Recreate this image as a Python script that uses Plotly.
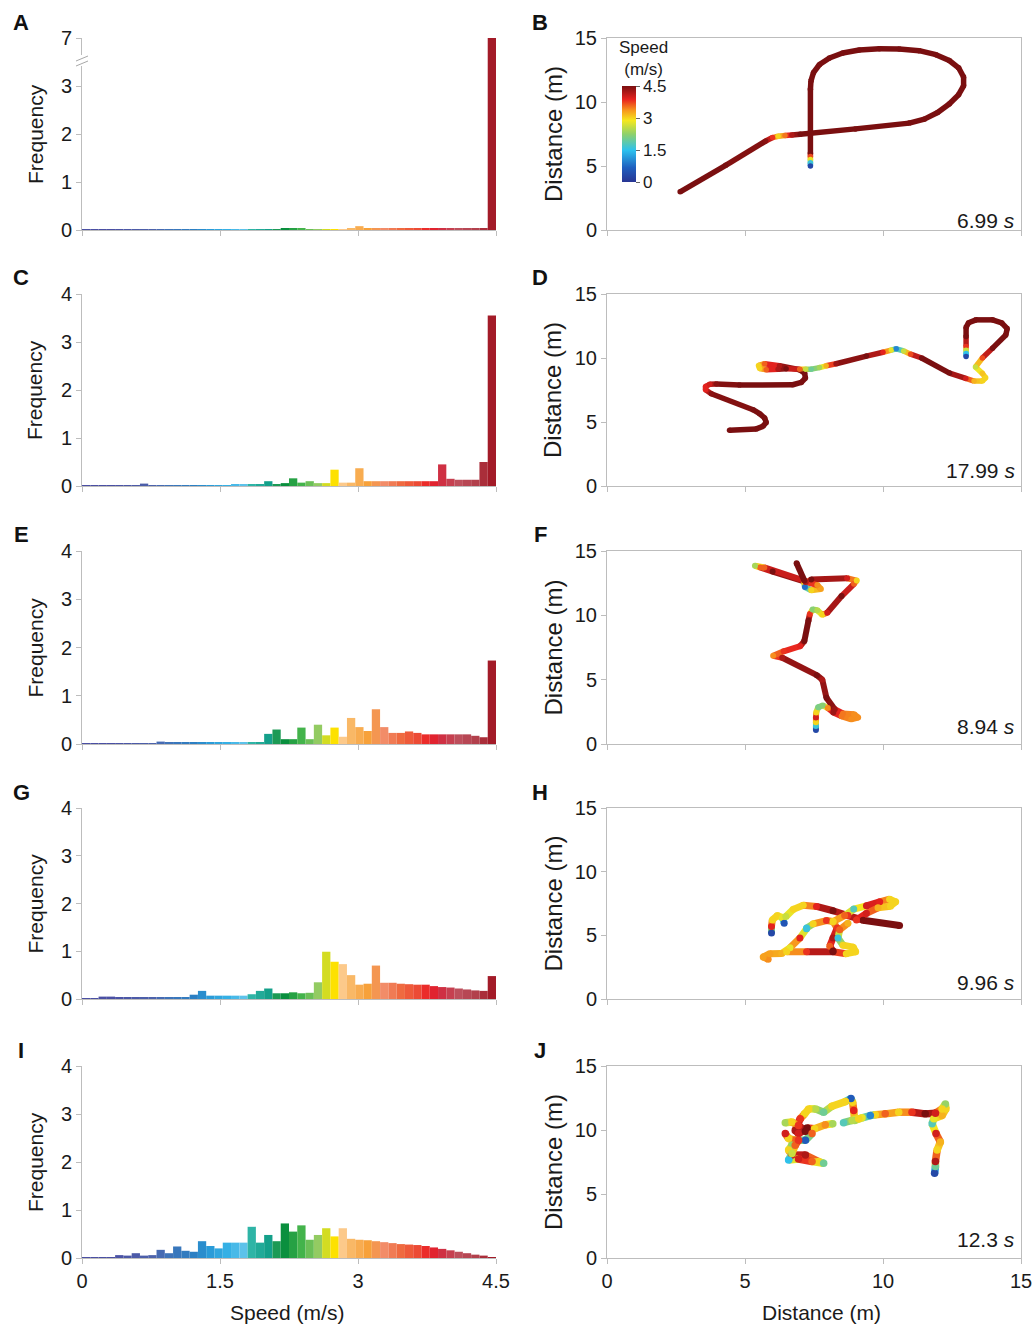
import plotly.graph_objects as go

W, H = 1036, 1324
FONT = "Liberation Sans, Arial, Helvetica, sans-serif"

# ---------------- data ----------------
BIN_WIDTH = 0.09
SPEED_BINS = [round(BIN_WIDTH * (k + 0.5), 3) for k in range(50)]  # bin centres (m/s)

FREQ_A = [0.02, 0.02, 0.02, 0.02, 0.02, 0.02, 0.02, 0.02, 0.02, 0.02,
          0.02, 0.02, 0.02, 0.02, 0.02, 0.02, 0.02, 0.02, 0.02, 0.02,
          0.02, 0.02, 0.02, 0.02, 0.03, 0.04, 0.03, 0.02, 0.02, 0.02,
          0.02, 0.02, 0.03, 0.08, 0.04, 0.03, 0.03, 0.03, 0.03, 0.03,
          0.03, 0.03, 0.03, 0.03, 0.03, 0.03, 0.03, 0.03, 0.03, 7.0]
FREQ_C = [0.02, 0.02, 0.02, 0.02, 0.02, 0.02, 0.02, 0.05, 0.02, 0.02,
          0.02, 0.02, 0.02, 0.02, 0.02, 0.02, 0.02, 0.02, 0.03, 0.03,
          0.03, 0.03, 0.10, 0.03, 0.06, 0.16, 0.07, 0.10, 0.06, 0.06,
          0.34, 0.07, 0.07, 0.37, 0.10, 0.10, 0.10, 0.10, 0.10, 0.10,
          0.10, 0.10, 0.10, 0.45, 0.15, 0.13, 0.13, 0.13, 0.50, 3.55]
FREQ_E = [0.02, 0.02, 0.02, 0.02, 0.02, 0.02, 0.02, 0.02, 0.02, 0.05,
          0.03, 0.03, 0.03, 0.03, 0.03, 0.03, 0.03, 0.03, 0.03, 0.03,
          0.03, 0.03, 0.21, 0.30, 0.10, 0.10, 0.34, 0.10, 0.40, 0.18,
          0.34, 0.15, 0.54, 0.35, 0.27, 0.72, 0.35, 0.23, 0.23, 0.26,
          0.23, 0.20, 0.20, 0.20, 0.20, 0.20, 0.20, 0.17, 0.14, 1.73]
FREQ_G = [0.02, 0.02, 0.05, 0.05, 0.04, 0.04, 0.04, 0.04, 0.04, 0.04,
          0.04, 0.04, 0.04, 0.09, 0.17, 0.07, 0.07, 0.07, 0.07, 0.07,
          0.10, 0.17, 0.22, 0.12, 0.12, 0.14, 0.12, 0.13, 0.35, 0.99,
          0.78, 0.73, 0.50, 0.30, 0.32, 0.70, 0.34, 0.34, 0.32, 0.31,
          0.30, 0.30, 0.27, 0.25, 0.24, 0.22, 0.20, 0.18, 0.17, 0.48]
FREQ_I = [0.02, 0.02, 0.02, 0.02, 0.06, 0.05, 0.10, 0.05, 0.06, 0.17,
          0.10, 0.24, 0.15, 0.13, 0.35, 0.25, 0.20, 0.32, 0.32, 0.32,
          0.65, 0.32, 0.48, 0.35, 0.72, 0.55, 0.68, 0.38, 0.48, 0.62,
          0.45, 0.62, 0.40, 0.38, 0.37, 0.35, 0.33, 0.31, 0.29, 0.28,
          0.27, 0.25, 0.22, 0.19, 0.16, 0.13, 0.10, 0.07, 0.05, 0.02]

# trajectories: strokes of (x m, y m, speed m/s)
TRACK_B = [[(2.65, 2.98, 4.5), (4.3, 5.05, 4.5), (5.75, 6.95, 4.4), (6.0, 7.22, 3.8), (6.2, 7.32, 3.0),
            (6.45, 7.38, 3.5), (6.7, 7.42, 4.2), (7.0, 7.48, 4.5), (9.0, 7.9, 4.5), (10.95, 8.35, 4.5),
            (11.50, 8.66, 4.5), (11.98, 9.18, 4.5), (12.40, 9.85, 4.5), (12.74, 10.57, 4.5), (12.92, 11.26, 4.5),
            (12.92, 11.95, 4.5), (12.74, 12.67, 4.5), (12.40, 13.24, 4.5), (11.92, 13.70, 4.5), (11.31, 14.01, 4.5),
            (10.59, 14.14, 4.5), (9.87, 14.16, 4.5), (9.14, 14.06, 4.5), (8.54, 13.83, 4.5), (8.06, 13.44, 4.5),
            (7.70, 12.93, 4.5), (7.48, 12.29, 4.5), (7.39, 11.65, 4.5), (7.37, 11.0, 4.5), (7.37, 6.0, 4.5),
            (7.37, 5.75, 3.7), (7.37, 5.5, 2.8), (7.37, 5.25, 1.6), (7.37, 5.0, 0.3)]]
TRACK_D = [[(4.44, 4.35, 4.5), (5.41, 4.46, 4.5), (5.65, 4.66, 4.5), (5.77, 4.97, 4.5), (5.71, 5.31, 4.5),
            (5.53, 5.65, 4.5), (5.29, 5.96, 4.5), (3.78, 7.21, 4.4), (3.57, 7.52, 3.9), (3.57, 7.78, 3.9),
            (3.72, 7.94, 4.0), (3.96, 7.96, 4.4), (4.8, 7.89, 4.5), (6.73, 7.91, 4.5), (7.04, 8.09, 4.5),
            (7.19, 8.43, 4.5), (7.16, 8.82, 4.5), (6.98, 9.08, 4.5), (6.25, 9.39, 4.2), (5.71, 9.55, 3.6),
            (5.49, 9.42, 3.0), (5.53, 9.18, 3.0), (5.77, 9.08, 3.6), (6.2, 9.12, 4.2), (6.49, 9.16, 4.5),
            (6.98, 9.13, 3.6), (7.2, 9.12, 2.6), (7.4, 9.13, 2.0), (7.7, 9.25, 2.4), (7.94, 9.39, 3.2),
            (8.3, 9.55, 4.3), (9.4, 10.15, 4.5), (10.0, 10.45, 3.9), (10.3, 10.62, 2.8), (10.48, 10.72, 1.0),
            (10.75, 10.55, 2.6), (11.0, 10.3, 3.7), (11.4, 10.0, 4.5), (12.41, 8.82, 4.5), (13.0, 8.4, 4.0),
            (13.3, 8.2, 3.2), (13.6, 8.2, 3.0), (13.72, 8.45, 3.0), (13.6, 8.8, 3.1), (13.35, 9.3, 2.6),
            (13.6, 10.0, 3.7), (13.97, 10.77, 4.5), (14.45, 11.8, 4.5), (14.5, 12.3, 4.5), (14.3, 12.75, 4.5),
            (13.97, 12.98, 4.5), (13.37, 12.98, 4.5), (13.1, 12.75, 4.5), (13.01, 12.4, 4.5), (13.01, 11.68, 4.5),
            (13.01, 10.9, 3.8), (13.01, 10.6, 2.6), (13.01, 10.35, 1.5), (13.01, 10.12, 0.3)]]
TRACK_F = [[(7.57, 1.08, 0.3), (7.57, 1.4, 1.6), (7.57, 1.7, 3.0), (7.57, 2.05, 4.0), (7.58, 2.45, 3.0),
            (7.65, 2.85, 2.1), (7.82, 3.0, 2.2), (8.0, 2.8, 3.4), (8.2, 2.45, 4.3), (8.5, 2.15, 3.5),
            (8.85, 1.92, 3.4), (9.1, 2.05, 3.4), (8.95, 2.32, 3.4), (8.55, 2.38, 3.5), (8.25, 2.7, 4.3),
            (7.95, 3.6, 4.5), (7.8, 5.0, 4.2), (7.6, 5.35, 4.5), (6.35, 6.7, 4.2), (6.02, 6.85, 3.4),
            (6.4, 7.2, 3.8), (7.0, 7.6, 3.9), (7.15, 8.0, 4.5), (7.3, 9.6, 4.5), (7.35, 10.1, 3.8),
            (7.45, 10.45, 2.2), (7.62, 10.4, 2.5), (7.8, 10.05, 3.0), (7.98, 10.2, 4.0), (8.5, 11.5, 4.5),
            (8.95, 12.45, 3.6), (9.05, 12.7, 3.0), (8.7, 12.88, 4.0), (7.4, 12.78, 4.5), (7.15, 12.5, 3.0),
            (7.17, 12.2, 0.8), (7.4, 11.95, 3.0), (7.75, 12.05, 3.3), (7.62, 12.35, 3.4), (7.2, 12.6, 4.2),
            (6.0, 13.4, 4.5), (5.55, 13.72, 3.6), (5.36, 13.85, 2.4), (5.7, 13.72, 3.6), (7.15, 12.7, 4.5),
            (6.87, 14.05, 4.5)]]
TRACK_H = [
    [(5.96, 5.18, 0.3), (5.96, 5.70, 3.9), (5.99, 6.21, 3.0), (6.17, 6.55, 3.0), (6.36, 6.39, 2.8), (6.42, 5.95, 0.5)],
    [(6.48, 6.47, 2.6), (6.75, 7.04, 3.0), (7.11, 7.37, 3.0), (7.59, 7.27, 3.9), (8.19, 6.93, 4.5),
     (8.73, 6.55, 3.8), (9.28, 6.19, 4.5), (10.60, 5.77, 4.5)],
    [(8.19, 6.08, 3.0), (8.61, 6.55, 3.6), (8.94, 7.06, 1.8), (9.40, 7.32, 4.0), (9.88, 7.63, 3.9),
     (10.24, 7.84, 3.0), (10.46, 7.63, 3.0), (10.27, 7.29, 3.0), (9.82, 7.16, 3.2), (9.40, 6.73, 4.0), (9.04, 6.21, 3.8)],
    [(7.23, 5.57, 1.6), (7.47, 5.90, 3.0), (7.95, 6.16, 3.8), (8.19, 6.08, 3.0), (8.34, 5.57, 3.8),
     (8.19, 4.79, 4.2), (8.07, 4.15, 3.6), (8.19, 3.76, 4.5)],
    [(5.84, 3.12, 3.4), (5.66, 3.30, 3.3), (5.90, 3.56, 3.3), (6.33, 3.58, 3.2), (6.63, 4.02, 2.8),
     (6.99, 4.79, 3.9), (7.23, 5.52, 1.6)],
    [(6.51, 3.71, 3.0), (7.23, 3.71, 3.8), (8.19, 3.71, 4.5), (8.67, 3.56, 3.0), (9.01, 3.71, 3.0),
     (8.92, 4.07, 3.0), (8.55, 4.23, 3.0), (8.37, 4.79, 1.6), (8.43, 5.44, 3.6), (8.73, 5.95, 3.2)],
]
TRACK_J = [
    [(11.87, 6.62, 0.3), (11.90, 7.14, 2.0), (11.90, 7.53, 4.2), (11.96, 8.43, 3.0), (12.08, 9.07, 3.2),
     (11.92, 9.72, 4.0), (11.78, 10.49, 1.8), (11.84, 10.88, 2.8), (12.14, 11.13, 3.2), (12.28, 11.65, 3.0),
     (12.26, 12.04, 2.3), (12.14, 11.65, 3.0), (11.90, 11.31, 4.0), (11.53, 11.26, 4.5), (11.05, 11.39, 3.8),
     (10.57, 11.39, 3.0), (10.08, 11.26, 3.6), (9.72, 11.19, 3.0), (9.54, 11.13, 1.0), (9.24, 10.95, 2.8),
     (8.97, 10.75, 2.4), (8.94, 11.52, 3.9), (8.90, 12.16, 3.0), (8.84, 12.47, 0.6), (8.64, 12.22, 3.0),
     (8.15, 11.86, 3.0), (7.85, 11.39, 2.0), (7.55, 11.65, 2.5), (7.31, 11.65, 3.0), (7.16, 11.26, 3.0),
     (7.00, 10.88, 3.8), (6.82, 9.97, 4.2), (6.94, 9.72, 4.0), (7.25, 10.15, 4.5), (7.52, 10.10, 3.0),
     (7.91, 10.41, 3.4), (8.18, 10.49, 2.4)],
    [(6.46, 10.57, 2.4), (6.70, 10.62, 3.0), (6.94, 10.36, 3.8), (7.19, 9.90, 4.5), (7.43, 9.72, 3.6),
     (7.19, 9.20, 0.6), (6.82, 9.20, 3.6), (6.58, 9.33, 3.0), (6.46, 9.72, 4.0)],
    [(6.70, 8.81, 2.3), (6.58, 8.43, 3.0), (6.70, 8.04, 4.0), (7.19, 8.04, 4.2), (7.67, 7.53, 3.0),
     (7.85, 7.40, 2.0), (7.43, 7.53, 3.6), (6.94, 7.73, 4.0), (6.58, 7.65, 1.5), (6.70, 8.17, 2.6),
     (6.82, 8.81, 3.6), (6.94, 9.20, 3.8)],
    [(8.57, 10.57, 1.8), (8.88, 10.75, 2.5), (9.12, 10.88, 3.0)],
]

HISTS = [FREQ_A, FREQ_C, FREQ_E, FREQ_G, FREQ_I]
TRACKS = [TRACK_B, TRACK_D, TRACK_F, TRACK_H, TRACK_J]
TIMES = ["6.99", "17.99", "8.94", "9.96", "12.3"]
LEFT_LETTERS = ["A", "C", "E", "G", "I"]
RIGHT_LETTERS = ["B", "D", "F", "H", "J"]
SPEED_TICKS = [0, 1.5, 3, 4.5]
SPEED_TICKTEXT = ["0", "1.5", "3", "4.5"]
DIST_TICKS = [0, 5, 10, 15]
FREQ_TICKS = [0, 1, 2, 3, 4]
FREQ_TICKTEXT_A = ["0", "1", "2", "3", "7"]
FREQ_TICKTEXT = ["0", "1", "2", "3", "4"]
FREQ_CLIP = 4  # axis break in panel A

# ---------------- styles ----------------
ROWS = [(38, 230), (294, 486), (551, 744), (808, 999), (1066, 1258)]
LEFT_X = (82, 496)
RIGHT_X = (607, 1021)
TRACK_WIDTHS = [5.5, 5.5, 6, 7, 7.5]
TIME_Y = [220, 470, 726, 982, 1239]

BIN_SCALE = [(0.00, '#4a4fa3'), (0.07, '#4a4fa3'), (0.17, '#4d62ab'), (0.21, '#3f73b8'),
             (0.27, '#2b7fc3'), (0.31, '#2a9bd8'), (0.35, '#35b0e5'), (0.39, '#5cc2ea'),
             (0.41, '#2eb4a6'), (0.45, '#14a08a'), (0.47, '#1c9a55'), (0.49, '#0a8f3e'),
             (0.53, '#43b34b'), (0.57, '#93cb62'), (0.59, '#d3dc22'), (0.61, '#fde100'),
             (0.63, '#fcc98a'), (0.65, '#f9b866'), (0.69, '#f7a13a'), (0.73, '#f28c68'),
             (0.77, '#ef6a40'), (0.81, '#ec4b35'), (0.84, '#ea1d25'), (0.87, '#cf3043'),
             (0.91, '#bd4f5c'), (0.95, '#b2404c'), (0.99, '#a31b28'), (1.00, '#a31b28')]
JET = [(0.0, '#283593'), (0.15, '#1f5fbf'), (0.33, '#2cc1ee'), (0.5, '#8fd16a'),
       (0.64, '#f5e81e'), (0.75, '#f7941d'), (0.86, '#e8231f'), (1.0, '#7a0f10')]


def hex2rgb(h):
    h = h.lstrip('#')
    return tuple(int(h[i:i + 2], 16) for i in (0, 2, 4))


def interp(scale, t):
    t = max(0.0, min(1.0, t))
    for (p0, c0), (p1, c1) in zip(scale[:-1], scale[1:]):
        if p0 <= t <= p1:
            f = 0 if p1 == p0 else (t - p0) / (p1 - p0)
            a, b = hex2rgb(c0), hex2rgb(c1)
            return 'rgb(%d,%d,%d)' % tuple(round(a[i] + f * (b[i] - a[i])) for i in range(3))
    return scale[-1][1]


BIN_COLORS = [interp(BIN_SCALE, (k + 0.5) / 50) for k in range(50)]

fig = go.Figure()
AX_GRAY = '#bdbdbd'
TICKFONT = dict(family=FONT, size=20, color='#1a1a1a')


def px_x(v):
    return v / W


def px_y(v):
    return 1 - v / H


layout = dict(width=W, height=H, margin=dict(l=0, r=0, t=0, b=0), template='none',
              paper_bgcolor='white', plot_bgcolor='white', showlegend=False,
              font=dict(family=FONT, color='#1a1a1a'))
annotations = []
shapes = []

for r, (top, bot) in enumerate(ROWS):
    li, ri = 2 * r + 1, 2 * r + 2
    ydom = [px_y(bot), px_y(top)]
    last = r == len(ROWS) - 1
    base = dict(showline=True, linecolor=AX_GRAY, linewidth=1, ticks='outside', ticklen=5,
                tickcolor=AX_GRAY, showgrid=False, zeroline=False, automargin=False,
                tickfont=TICKFONT, fixedrange=True)
    # histogram
    layout['xaxis%d' % li] = dict(base, domain=[px_x(LEFT_X[0]), px_x(LEFT_X[1])], anchor='y%d' % li,
                                  range=[0, 4.5], tickvals=SPEED_TICKS, ticktext=SPEED_TICKTEXT,
                                  showticklabels=last)
    layout['yaxis%d' % li] = dict(base, domain=ydom, anchor='x%d' % li, range=[0, 4],
                                  tickvals=FREQ_TICKS,
                                  ticktext=FREQ_TICKTEXT_A if r == 0 else FREQ_TICKTEXT)
    # trajectory
    layout['xaxis%d' % ri] = dict(base, domain=[px_x(RIGHT_X[0]), px_x(RIGHT_X[1])], anchor='y%d' % ri,
                                  range=[0, 15], tickvals=DIST_TICKS, showticklabels=last, mirror=True)
    layout['yaxis%d' % ri] = dict(base, domain=ydom, anchor='x%d' % ri, range=[0, 15],
                                  tickvals=DIST_TICKS, mirror=True)

    vals = HISTS[r]
    fig.add_trace(go.Bar(x=SPEED_BINS, y=[min(v, FREQ_CLIP) for v in vals], width=BIN_WIDTH,
                         marker=dict(color=BIN_COLORS, line=dict(width=0)),
                         customdata=vals, hovertemplate='%{x}: %{customdata}<extra></extra>',
                         xaxis='x%d' % li, yaxis='y%d' % li))

    w = TRACK_WIDTHS[r]
    xs, ys, ss = [], [], []
    for stroke in TRACKS[r]:
        for (x0, y0, s0), (x1, y1, s1) in zip(stroke[:-1], stroke[1:]):
            fig.add_trace(go.Scatter(x=[x0, x1], y=[y0, y1], mode='lines',
                                     line=dict(color=interp(JET, (s0 + s1) / 2 / 4.5), width=w),
                                     hoverinfo='skip', xaxis='x%d' % ri, yaxis='y%d' % ri))
        xs += [p[0] for p in stroke]
        ys += [p[1] for p in stroke]
        ss += [p[2] for p in stroke]
    marker = dict(size=w, color=ss, cmin=0, cmax=4.5,
                  colorscale=[[p, c] for p, c in JET], line=dict(width=0))
    if r == 0:
        marker.update(showscale=True, colorbar=dict(
            x=px_x(622), xanchor='left', y=px_y(134), yanchor='middle',
            len=96 / H, lenmode='fraction', thickness=14, thicknessmode='pixels',
            xpad=0, ypad=0, outlinewidth=0, tickvals=SPEED_TICKS, ticktext=SPEED_TICKTEXT,
            ticks='outside', ticklen=4, tickcolor='#666',
            tickfont=dict(family=FONT, size=17, color='#1a1a1a')))
    fig.add_trace(go.Scatter(x=xs, y=ys, mode='markers', marker=marker, hoverinfo='skip',
                             xaxis='x%d' % ri, yaxis='y%d' % ri))

    # texts
    ymid = (top + bot) / 2
    for letter, lx in ((LEFT_LETTERS[r], 21), (RIGHT_LETTERS[r], 540)):
        annotations.append(dict(text='<b>%s</b>' % letter, x=px_x(lx), y=px_y(top - 16), xref='paper',
                                yref='paper', showarrow=False, font=dict(family=FONT, size=22, color='#111'),
                                xanchor='center', yanchor='middle'))
    annotations.append(dict(text='Frequency', textangle=-90, x=px_x(35), y=px_y(ymid), xref='paper',
                            yref='paper', showarrow=False, font=dict(family=FONT, size=21, color='#1a1a1a'),
                            xanchor='center', yanchor='middle'))
    annotations.append(dict(text='Distance (m)', textangle=-90, x=px_x(553), y=px_y(ymid), xref='paper',
                            yref='paper', showarrow=False, font=dict(family=FONT, size=24, color='#1a1a1a'),
                            xanchor='center', yanchor='middle'))
    annotations.append(dict(text='%s <i>s</i>' % TIMES[r], x=px_x(1017), y=px_y(TIME_Y[r]), xref='paper',
                            yref='paper', showarrow=False, font=dict(family=FONT, size=21, color='#1a1a1a'),
                            xanchor='right', yanchor='middle'))

annotations.append(dict(text='Speed (m/s)', x=px_x(287), y=px_y(1312), xref='paper', yref='paper',
                        showarrow=False, font=dict(family=FONT, size=21, color='#1a1a1a'),
                        xanchor='center', yanchor='middle'))
annotations.append(dict(text='Distance (m)', x=px_x(821), y=px_y(1312), xref='paper', yref='paper',
                        showarrow=False, font=dict(family=FONT, size=21, color='#1a1a1a'),
                        xanchor='center', yanchor='middle'))
annotations.append(dict(text='Speed<br>(m/s)', x=px_x(643), y=px_y(58), xref='paper', yref='paper',
                        showarrow=False, font=dict(family=FONT, size=17, color='#1a1a1a'),
                        xanchor='center', yanchor='middle'))

# axis break on panel A
shapes.append(dict(type='rect', xref='paper', yref='paper', x0=px_x(79), x1=px_x(86),
                   y0=px_y(66), y1=px_y(55), fillcolor='white', line=dict(width=0)))
shapes.append(dict(type='line', xref='paper', yref='paper', x0=px_x(76), y0=px_y(61), x1=px_x(88),
                   y1=px_y(56), line=dict(color='#a8a8a8', width=1)))
shapes.append(dict(type='line', xref='paper', yref='paper', x0=px_x(76), y0=px_y(66), x1=px_x(88),
                   y1=px_y(61), line=dict(color='#a8a8a8', width=1)))

layout['annotations'] = annotations
layout['shapes'] = shapes
fig.update_layout(**layout)
fig.write_html("out.html")
